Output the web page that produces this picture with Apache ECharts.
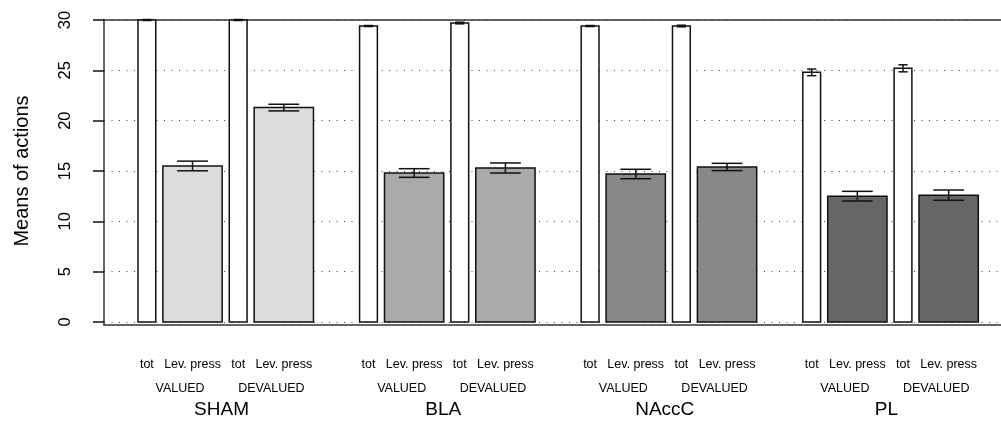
<!DOCTYPE html>
<html>
<head>
<meta charset="utf-8">
<title>Means of actions</title>
<script src="https://cdn.jsdelivr.net/npm/echarts@6/dist/echarts.min.js"></script>
<style>
  html, body { margin: 0; padding: 0; background: #ffffff; overflow: hidden; }
  #chart { width: 1001px; height: 421px; }
</style>
</head>
<body>
<div id="chart"></div>
<script>
// Lesion groups, test conditions and measured responses
const groups = ['SHAM', 'BLA', 'NAccC', 'PL'];
const conditions = ['VALUED', 'DEVALUED'];
const measures = ['tot', 'Lev. press'];
const yTicks = [0, 5, 10, 15, 20, 25, 30];

// Means per group, ordered: tot VALUED, Lev. press VALUED, tot DEVALUED, Lev. press DEVALUED
const shamMeans  = [30.0, 15.5, 30.0, 21.3];
const blaMeans   = [29.4, 14.8, 29.7, 15.3];
const naccMeans  = [29.4, 14.7, 29.4, 15.4];
const plMeans    = [24.8, 12.5, 25.2, 12.6];

// Standard errors, same order
const shamErr = [0.05, 0.48, 0.05, 0.33];
const blaErr  = [0.05, 0.43, 0.08, 0.50];
const naccErr = [0.05, 0.47, 0.08, 0.36];
const plErr   = [0.33, 0.48, 0.35, 0.51];

const allMeans = [shamMeans, blaMeans, naccMeans, plMeans];
const allErr = [shamErr, blaErr, naccErr, plErr];

// Fill of the lever-press bars for each group; "tot" bars are white
const levFill = ['#DCDCDC', '#AAAAAA', '#888888', '#666666'];
const totFill = '#FFFFFF';

// Horizontal layout in bar units (a lever-press bar is one unit wide)
const TOT_W = 0.3, LEV_W = 1.0, BAR_GAP = 0.12;
const GROUP_STEP = 3.738, FIRST_START = 0.573, X_MAX = 15.13;
const barWidths = [TOT_W, LEV_W];

const barItems = [];
const labelItems = [];
groups.forEach((g, gi) => {
  let pos = FIRST_START + gi * GROUP_STEP;
  const groupStart = pos;
  conditions.forEach((c, ci) => {
    const condStart = pos;
    measures.forEach((m, mi) => {
      const k = ci * 2 + mi;
      const w = barWidths[mi];
      const center = pos + w / 2;
      barItems.push({
        value: [center, allMeans[gi][k], allErr[gi][k], w],
        fill: mi === 0 ? totFill : levFill[gi]
      });
      labelItems.push({ value: [center, 0], text: m, row: 0 });
      pos += w + BAR_GAP;
    });
    const condEnd = pos - BAR_GAP;
    labelItems.push({ value: [(condStart + condEnd) / 2, 0], text: c, row: 1 });
  });
  const groupEnd = pos - BAR_GAP;
  labelItems.push({ value: [(groupStart + groupEnd) / 2 - 0.07, 0], text: g, row: 2 });
});

const FONT = '"Liberation Sans", Arial, Helvetica, sans-serif';
const INK = '#111111';
const FRAME = '#333333';

function renderBar(params, api) {
  const item = barItems[params.dataIndex];
  const x = api.value(0), v = api.value(1), e = api.value(2), w = api.value(3);
  const bl = api.coord([x - w / 2, 0]);
  const tr = api.coord([x + w / 2, v]);
  const cx = api.coord([x, 0])[0];
  const yHi = api.coord([x, v + e])[1];
  const yLo = api.coord([x, v - e])[1];
  const capHalf = (tr[0] - bl[0]) * 0.26;
  const lineStyle = { stroke: INK, lineWidth: 1.5 };
  return {
    type: 'group',
    children: [
      { type: 'rect',
        shape: { x: bl[0], y: tr[1], width: tr[0] - bl[0], height: bl[1] - tr[1] },
        style: { fill: item.fill, stroke: INK, lineWidth: 1.5 } },
      { type: 'line', shape: { x1: cx, y1: yHi, x2: cx, y2: yLo }, style: lineStyle },
      { type: 'line', shape: { x1: cx - capHalf, y1: yHi, x2: cx + capHalf, y2: yHi }, style: lineStyle },
      { type: 'line', shape: { x1: cx - capHalf, y1: yLo, x2: cx + capHalf, y2: yLo }, style: lineStyle }
    ]
  };
}

// Three rows of category labels under the plot
const rowOffset = [43, 66.7, 87.5];
const rowSize = [12.5, 12.5, 19];
function renderLabel(params, api) {
  const item = labelItems[params.dataIndex];
  const p = api.coord([api.value(0), 0]);
  return {
    type: 'text',
    x: p[0],
    y: p[1] + rowOffset[item.row],
    style: {
      text: item.text,
      align: 'center',
      verticalAlign: 'middle',
      fontSize: rowSize[item.row],
      fontFamily: FONT,
      fill: '#000000'
    }
  };
}

// Frame axes: only their lines are drawn (top, bottom, left; open on the right)
const frameAxis = {
  gridIndex: 1, type: 'value', min: 0, max: 1,
  axisLine: { show: true, lineStyle: { color: FRAME, width: 1.5 } },
  axisTick: { show: false }, axisLabel: { show: false }, splitLine: { show: false }
};

const chart = echarts.init(document.getElementById('chart'), null, { renderer: 'canvas' });

chart.setOption({
  animation: false,
  backgroundColor: '#FFFFFF',
  grid: [
    { left: 104, top: 20, right: 0, height: 302 },
    { left: 104, top: 19.5, right: 0, height: 305.5 }
  ],
  xAxis: [
    { gridIndex: 0, type: 'value', min: 0, max: X_MAX,
      axisLine: { show: false }, axisTick: { show: false },
      axisLabel: { show: false }, splitLine: { show: false } },
    Object.assign({}, frameAxis, { position: 'bottom' }),
    Object.assign({}, frameAxis, { position: 'top' })
  ],
  yAxis: [
    { gridIndex: 0, type: 'value', min: yTicks[0], max: yTicks[yTicks.length - 1], interval: 5,
      name: 'Means of actions',
      nameLocation: 'middle',
      nameGap: 72,
      nameTextStyle: { fontSize: 20, fontFamily: FONT, color: '#000000' },
      axisLine: { show: false },
      axisTick: { show: true, inside: false, length: 11, lineStyle: { color: INK, width: 1.5 } },
      axisLabel: { rotate: 90, margin: 30, fontSize: 16.5, fontFamily: FONT, color: '#000000' },
      splitLine: { show: true, lineStyle: { color: '#444444', width: 1, type: [1, 6.5] } } },
    Object.assign({}, frameAxis, { position: 'left' })
  ],
  series: [
    { type: 'custom', xAxisIndex: 0, yAxisIndex: 0, clip: false,
      renderItem: renderBar,
      data: barItems.map(d => d.value) },
    { type: 'custom', xAxisIndex: 0, yAxisIndex: 0, clip: false, silent: true,
      renderItem: renderLabel,
      data: labelItems.map(d => d.value) }
  ]
});
</script>
</body>
</html>
